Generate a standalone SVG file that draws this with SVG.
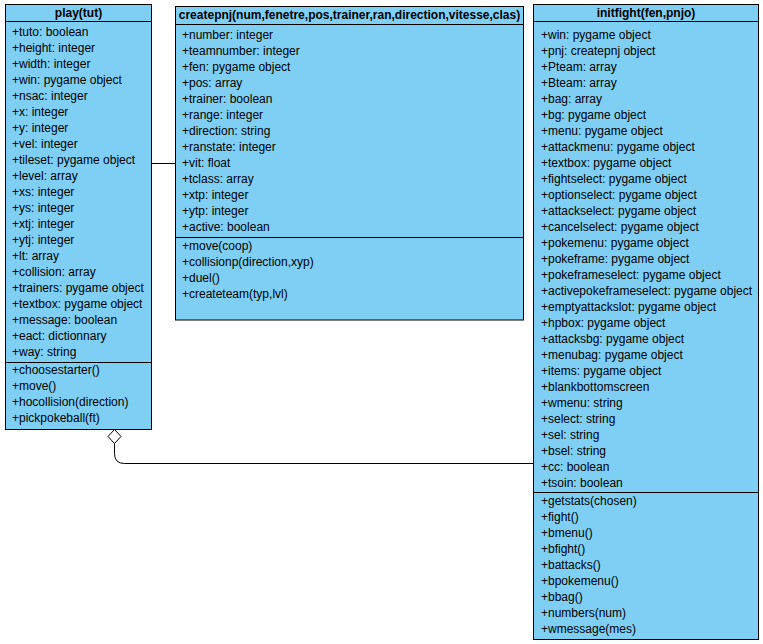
<svg xmlns="http://www.w3.org/2000/svg" width="763" height="644" viewBox="0 0 763 644">
  <style>
    .box { fill: #7fcff5; stroke: #000; stroke-width: 1; }
    .sep { stroke: #000; stroke-width: 1; fill: none; }
    .title { font-family: "Liberation Sans", Arial, sans-serif; font-size: 12px; font-weight: bold; text-anchor: middle; fill: #000; }
    .row { font-family: "Liberation Sans", Arial, sans-serif; font-size: 12px; fill: #000; }
    .edge { stroke: #000; stroke-width: 1; fill: none; }
  </style>
  <rect width="763" height="644" fill="#fff"/>

  <!-- class play(tut) -->
  <g id="play">
    <rect class="box" x="5.5" y="4.5" width="146" height="425"/>
    <line class="sep" x1="5.5" y1="21.5" x2="151.5" y2="21.5"/>
    <line class="sep" x1="5.5" y1="362.5" x2="151.5" y2="362.5"/>
    <text class="title" x="78.5" y="17">play(tut)</text>
    <text class="row">
      <tspan x="12" y="36">+tuto: boolean</tspan>
      <tspan x="12" y="52">+height: integer</tspan>
      <tspan x="12" y="68">+width: integer</tspan>
      <tspan x="12" y="84">+win: pygame object</tspan>
      <tspan x="12" y="100">+nsac: integer</tspan>
      <tspan x="12" y="116">+x: integer</tspan>
      <tspan x="12" y="132">+y: integer</tspan>
      <tspan x="12" y="148">+vel: integer</tspan>
      <tspan x="12" y="164">+tileset: pygame object</tspan>
      <tspan x="12" y="180">+level: array</tspan>
      <tspan x="12" y="196">+xs: integer</tspan>
      <tspan x="12" y="212">+ys: integer</tspan>
      <tspan x="12" y="228">+xtj: integer</tspan>
      <tspan x="12" y="244">+ytj: integer</tspan>
      <tspan x="12" y="260">+lt: array</tspan>
      <tspan x="12" y="276">+collision: array</tspan>
      <tspan x="12" y="292">+trainers: pygame object</tspan>
      <tspan x="12" y="308">+textbox: pygame object</tspan>
      <tspan x="12" y="324">+message: boolean</tspan>
      <tspan x="12" y="340">+eact: dictionnary</tspan>
      <tspan x="12" y="356">+way: string</tspan>
    </text>
    <text class="row">
      <tspan x="12" y="374">+choosestarter()</tspan>
      <tspan x="12" y="390">+move()</tspan>
      <tspan x="12" y="406">+hocollision(direction)</tspan>
      <tspan x="12" y="422">+pickpokeball(ft)</tspan>
    </text>
  </g>

  <!-- class createpnj(...) -->
  <g id="createpnj">
    <rect class="box" x="175.5" y="6.5" width="348" height="313.5"/>
    <line class="sep" x1="175.5" y1="24.5" x2="523.5" y2="24.5"/>
    <line class="sep" x1="175.5" y1="237.5" x2="523.5" y2="237.5"/>
    <text class="title" x="349.5" y="19">createpnj(num,fenetre,pos,trainer,ran,direction,vitesse,clas)</text>
    <text class="row">
      <tspan x="182" y="39">+number: integer</tspan>
      <tspan x="182" y="55">+teamnumber: integer</tspan>
      <tspan x="182" y="71">+fen: pygame object</tspan>
      <tspan x="182" y="87">+pos: array</tspan>
      <tspan x="182" y="103">+trainer: boolean</tspan>
      <tspan x="182" y="119">+range: integer</tspan>
      <tspan x="182" y="135">+direction: string</tspan>
      <tspan x="182" y="151">+ranstate: integer</tspan>
      <tspan x="182" y="167">+vit: float</tspan>
      <tspan x="182" y="183">+tclass: array</tspan>
      <tspan x="182" y="199">+xtp: integer</tspan>
      <tspan x="182" y="215">+ytp: integer</tspan>
      <tspan x="182" y="231">+active: boolean</tspan>
    </text>
    <text class="row">
      <tspan x="182" y="250">+move(coop)</tspan>
      <tspan x="182" y="266">+collisionp(direction,xyp)</tspan>
      <tspan x="182" y="282">+duel()</tspan>
      <tspan x="182" y="298">+createteam(typ,lvl)</tspan>
    </text>
  </g>

  <!-- class initfight(fen,pnjo) -->
  <g id="initfight">
    <rect class="box" x="533.5" y="4.5" width="225" height="635"/>
    <line class="sep" x1="533.5" y1="21.5" x2="758.5" y2="21.5"/>
    <line class="sep" x1="533.5" y1="492.5" x2="758.5" y2="492.5"/>
    <text class="title" x="646" y="17">initfight(fen,pnjo)</text>
    <text class="row">
      <tspan x="541" y="39">+win: pygame object</tspan>
      <tspan x="541" y="55">+pnj: createpnj object</tspan>
      <tspan x="541" y="71">+Pteam: array</tspan>
      <tspan x="541" y="87">+Bteam: array</tspan>
      <tspan x="541" y="103">+bag: array</tspan>
      <tspan x="541" y="119">+bg: pygame object</tspan>
      <tspan x="541" y="135">+menu: pygame object</tspan>
      <tspan x="541" y="151">+attackmenu: pygame object</tspan>
      <tspan x="541" y="167">+textbox: pygame object</tspan>
      <tspan x="541" y="183">+fightselect: pygame object</tspan>
      <tspan x="541" y="199">+optionselect: pygame object</tspan>
      <tspan x="541" y="215">+attackselect: pygame object</tspan>
      <tspan x="541" y="231">+cancelselect: pygame object</tspan>
      <tspan x="541" y="247">+pokemenu: pygame object</tspan>
      <tspan x="541" y="263">+pokeframe: pygame object</tspan>
      <tspan x="541" y="279">+pokeframeselect: pygame object</tspan>
      <tspan x="541" y="295">+activepokeframeselect: pygame object</tspan>
      <tspan x="541" y="311">+emptyattackslot: pygame object</tspan>
      <tspan x="541" y="327">+hpbox: pygame object</tspan>
      <tspan x="541" y="343">+attacksbg: pygame object</tspan>
      <tspan x="541" y="359">+menubag: pygame object</tspan>
      <tspan x="541" y="375">+items: pygame object</tspan>
      <tspan x="541" y="391">+blankbottomscreen</tspan>
      <tspan x="541" y="407">+wmenu: string</tspan>
      <tspan x="541" y="423">+select: string</tspan>
      <tspan x="541" y="439">+sel: string</tspan>
      <tspan x="541" y="455">+bsel: string</tspan>
      <tspan x="541" y="471">+cc: boolean</tspan>
      <tspan x="541" y="487">+tsoin: boolean</tspan>
    </text>
    <text class="row">
      <tspan x="541" y="505">+getstats(chosen)</tspan>
      <tspan x="541" y="521">+fight()</tspan>
      <tspan x="541" y="537">+bmenu()</tspan>
      <tspan x="541" y="553">+bfight()</tspan>
      <tspan x="541" y="569">+battacks()</tspan>
      <tspan x="541" y="585">+bpokemenu()</tspan>
      <tspan x="541" y="601">+bbag()</tspan>
      <tspan x="541" y="617">+numbers(num)</tspan>
      <tspan x="541" y="633">+wmessage(mes)</tspan>
    </text>
  </g>

  <!-- connectors -->
  <g id="edges">
    <!-- association play -> createpnj -->
    <line class="edge" x1="151.5" y1="163.5" x2="175.5" y2="163.5"/>
    <!-- aggregation initfight -> play (hollow diamond at play) -->
    <path class="edge" d="M533.5,463.5 H124.5 Q114.5,463.5 114.5,453.5 V443.5"/>
    <path d="M114.5,429.5 L121,436.5 L114.5,443.5 L108,436.5 Z" fill="#fff" stroke="#000" stroke-width="1"/>
  </g>
</svg>
